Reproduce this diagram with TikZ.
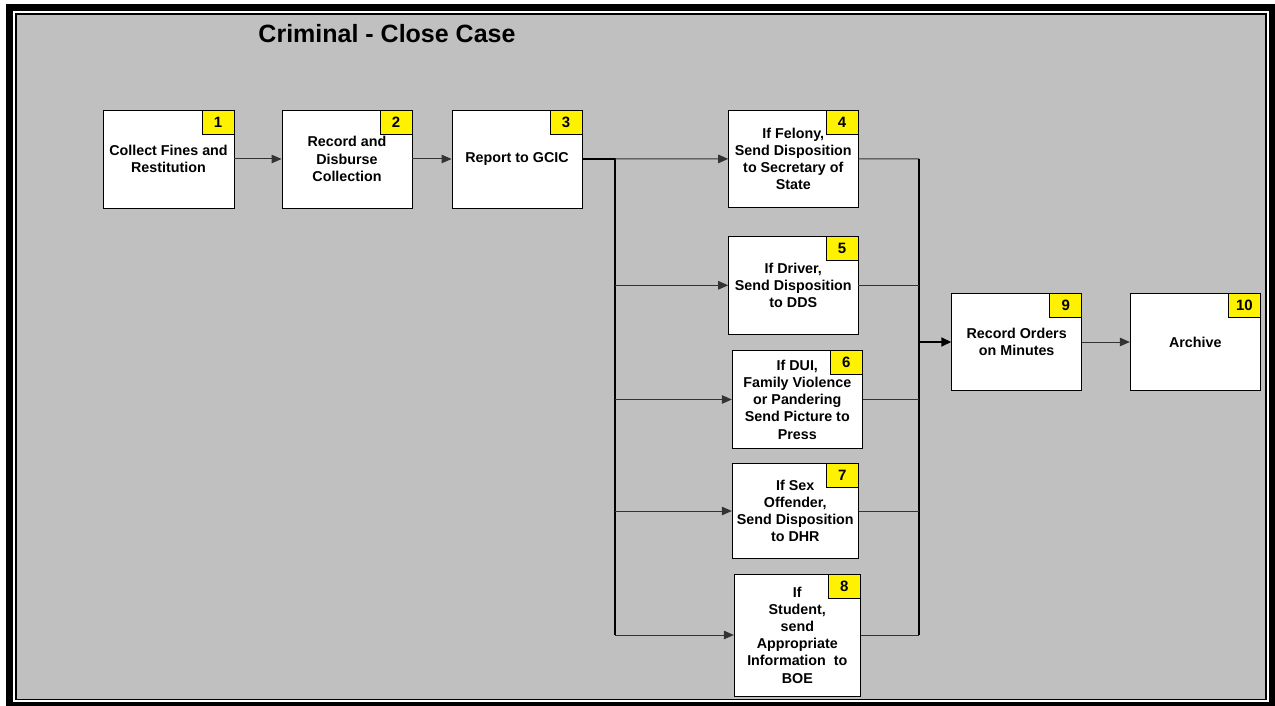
\documentclass[tikz,border=0pt]{standalone}
\usepackage{fontspec}
\setmainfont{Liberation Sans}
\usetikzlibrary{arrows.meta}
\definecolor{bggrey}{HTML}{C0C0C0}
\definecolor{linegrey}{HTML}{333333}
\tikzset{
  stepbox/.style={draw=black, line width=0.9pt, fill=white, align=center, inner sep=1pt,
    font=\fontsize{14.3}{17.2}\selectfont\bfseries},
  numbox/.style={draw=black, line width=0.8pt, fill=yellow, minimum width=32pt, minimum height=24pt,
    inner sep=0pt, anchor=north east, font=\fontsize{15}{16}\selectfont\bfseries},
  conn/.style={draw=linegrey, line width=1pt, -{Triangle[length=10pt,width=8.5pt]}},
  plain/.style={draw=linegrey, line width=1pt},
  heavy/.style={draw=black, line width=2pt},
  heavyarrow/.style={draw=black, line width=2pt, -{Triangle[length=10pt,width=9pt]}},
}
\begin{document}
\begin{tikzpicture}[x=1pt,y=-1pt]
\useasboundingbox (0,0) rectangle (1275,706);
% frame
\fill[black] (6,4) rectangle (1275,706);
\fill[white] (13.3,11) rectangle (1269,702);
\fill[black] (15.3,12.7) rectangle (1267,700);
\fill[bggrey] (17.3,14.7) rectangle (1265,698.7);

\node[font=\fontsize{25}{28}\selectfont\bfseries] (title) at (387,34) {Criminal - Close Case};

% boxes
\node[stepbox, minimum width=131pt, minimum height=98pt] (b1) at (168.5,159) {Collect Fines and\\Restitution};
\node[stepbox, minimum width=130pt, minimum height=98pt] (b2) at (347,159) {Record and\\Disburse\\Collection};
\node[stepbox, minimum width=130pt, minimum height=98pt] (b3) at (517,159) {Report to GCIC};
\node[stepbox, minimum width=129.3pt, minimum height=97.7pt] (b4) at (793.3,158.9) {If Felony,\\Send Disposition\\to Secretary of\\State};
\node[stepbox, minimum width=129.3pt, minimum height=97.3pt] (b5) at (793.3,285.3) {If Driver,\\Send Disposition\\to DDS};
\node[stepbox, minimum width=130pt, minimum height=97.6pt] (b6) at (797.3,399.5) {If DUI,\\Family Violence\\or Pandering\\Send Picture to\\Press};
\node[stepbox, minimum width=126pt, minimum height=94.6pt] (b7) at (795.3,511) {If Sex\\Offender,\\Send Disposition\\to DHR};
\node[stepbox, minimum width=126pt, minimum height=122pt] (b8) at (797.3,635) {If\\Student,\\send\\Appropriate\\Information\ \ to\\BOE};
\node[stepbox, minimum width=130pt, minimum height=97.4pt] (b9) at (1016.7,342) {Record Orders\\on Minutes};
\node[stepbox, minimum width=130pt, minimum height=97.4pt] (b10) at (1195.3,342) {Archive};

% number tags
\node[numbox] (n1) at (b1.north east) {1};
\node[numbox] (n2) at (b2.north east) {2};
\node[numbox] (n3) at (b3.north east) {3};
\node[numbox] (n4) at (b4.north east) {4};
\node[numbox] (n5) at (b5.north east) {5};
\node[numbox] (n6) at (b6.north east) {6};
\node[numbox] (n7) at (b7.north east) {7};
\node[numbox] (n8) at (b8.north east) {8};
\node[numbox] (n9) at (b9.north east) {9};
\node[numbox] (n10) at (b10.north east) {10};

% connectors
\draw[conn] (b1) -- (b2);
\draw[conn] (b2) -- (b3);

\coordinate (brtop) at (615,159);
\coordinate (brbot) at (615,635);
\draw[heavy] (b3.east) -- (brtop) -- (brbot);
\draw[conn] (brtop) -- (b4.west);
\draw[conn] (brtop |- b5.west) -- (b5.west);
\draw[conn] (brtop |- b6.west) -- (b6.west);
\draw[conn] (brtop |- b7.west) -- (b7.west);
\draw[conn] (brbot) -- (b8.west);

\coordinate (mgtop) at (919,159);
\coordinate (mgbot) at (919,635);
\draw[plain] (b4.east) -- (mgtop);
\draw[plain] (b8.east) -- (mgbot);
\draw[draw=black, line width=1.4pt] (mgtop) -- (mgbot);
\draw[plain] (b5.east) -- (b5.east -| mgtop);
\draw[plain] (b6.east) -- (b6.east -| mgtop);
\draw[plain] (b7.east) -- (b7.east -| mgtop);
\draw[heavyarrow] (mgtop |- b9.west) -- (b9.west);
\draw[conn] (b9) -- (b10);
\end{tikzpicture}
\end{document}
